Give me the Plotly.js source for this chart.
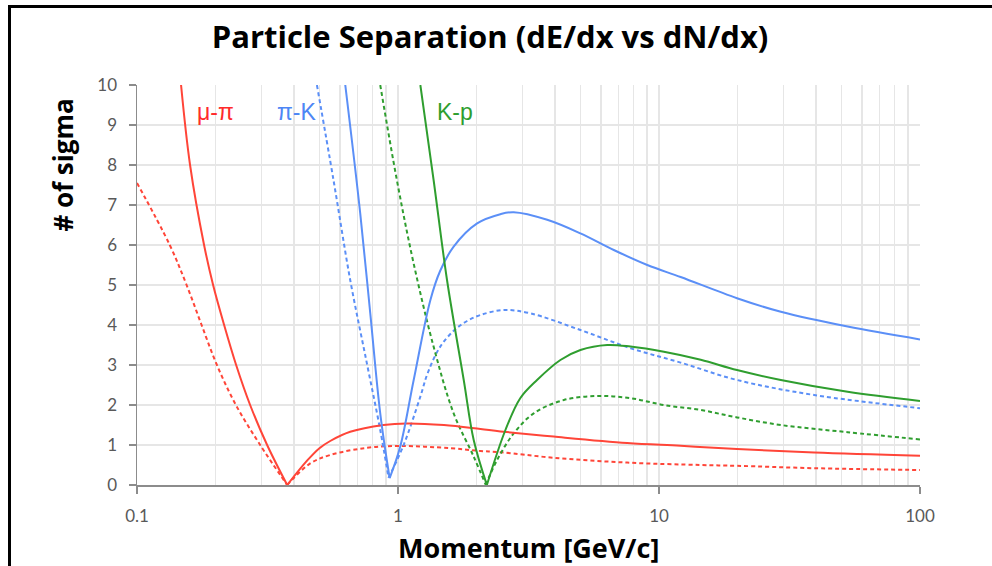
<!DOCTYPE html>
<html>
<head>
<meta charset="utf-8">
<script src="https://cdn.plot.ly/plotly-3.0.1.min.js"></script>
<style>
  html, body { margin: 0; padding: 0; background: #ffffff; }
  #wrap { position: relative; width: 992px; height: 566px; overflow: hidden; }
  #chart { position: absolute; left: 0; top: 0; width: 992px; height: 566px; }
  #frame { position: absolute; left: 8px; top: 5px; width: 990px; height: 570px;
           border-top: 3px solid #000; border-left: 3px solid #000; pointer-events: none; }
</style>
</head>
<body>
<div id="wrap">
  <div id="chart"></div>
  <div id="frame"></div>
</div>
<script>
// Momentum values (GeV/c) and separation power (# of sigma) per particle pair.
// Solid = dE/dx, dashed = dN/dx.
const muPiDEdxP = [0.1475, 0.1597, 0.1807, 0.1957, 0.2157, 0.2398, 0.2713, 0.3152, 0.3762, 0.45, 0.50, 0.55, 0.656, 0.88, 1.08, 1.5, 2.07, 2.47, 3.95, 7.55, 12.1, 19.9, 39.3, 100];
const muPiDEdx  = [10, 8.0, 6.0, 5.0, 4.0, 3.0, 2.0, 1.0, 0.0, 0.62, 0.92, 1.1, 1.33, 1.5, 1.54, 1.5, 1.40, 1.34, 1.21, 1.05, 0.98, 0.90, 0.81, 0.73];

const muPiDNdxP = [0.1, 0.1335, 0.1549, 0.1768, 0.2024, 0.2393, 0.2965, 0.3762, 0.461, 0.55, 0.76, 1.01, 1.587, 2.07, 2.47, 3.95, 7.55, 14.45, 19.9, 39.3, 100];
const muPiDNdx  = [7.55, 6.0, 5.0, 4.0, 3.0, 2.0, 1.0, 0.0, 0.54, 0.75, 0.93, 0.975, 0.92, 0.85, 0.82, 0.68, 0.56, 0.5, 0.48, 0.42, 0.375];

const piKDEdxP = [0.628, 0.7166, 0.783, 0.855, 0.929, 1.02, 1.148, 1.33, 1.45, 1.634, 2.01, 2.466, 2.776, 3.73, 5.0, 6.71, 9.02, 12.1, 19.9, 29.3, 52.8, 100];
const piKDEdx  = [10, 6.79, 4.29, 1.79, 0.17, 0.96, 2.62, 4.62, 5.35, 5.96, 6.54, 6.77, 6.82, 6.63, 6.29, 5.875, 5.5, 5.2, 4.67, 4.33, 3.96, 3.64];

const piKDNdxP = [0.489, 0.566, 0.656, 0.76, 0.855, 0.92, 1.051, 1.218, 1.3, 1.452, 1.65, 1.84, 2.07, 2.54, 3.22, 5.0, 7.78, 12.1, 19.9, 39.3, 100];
const piKDNdx  = [10, 7.625, 5.125, 3.04, 1.375, 0.18, 1.0, 2.21, 2.8, 3.46, 3.88, 4.1, 4.25, 4.375, 4.29, 3.875, 3.42, 3.06, 2.625, 2.25, 1.92];

const kPDEdxP = [1.218, 1.369, 1.541, 1.786, 1.95, 2.19, 2.58, 2.94, 3.41, 4.19, 5.0, 6.33, 7.78, 10.44, 14.45, 19.9, 29.3, 52.8, 100];
const kPDEdx  = [10, 7.625, 5.125, 2.625, 1.125, 0.0, 1.375, 2.17, 2.625, 3.125, 3.375, 3.5, 3.46, 3.33, 3.13, 2.875, 2.625, 2.33, 2.1];

const kPDNdxP = [0.855, 0.99, 1.148, 1.369, 1.634, 1.95, 2.17, 2.397, 2.776, 3.31, 4.32, 5.8, 7.78, 10.44, 14.45, 19.9, 29.3, 52.8, 100];
const kPDNdx  = [10, 7.625, 5.54, 3.46, 1.79, 0.71, 0.0, 0.625, 1.29, 1.79, 2.125, 2.225, 2.17, 2.0, 1.875, 1.69, 1.5, 1.32, 1.14];

// Axis ticks
const xMajorTicks = [0.1, 1, 10, 100];
const xMajorLabels = ['0.1', '1', '10', '100'];
const xMinorTicks = [];
[0.1, 1, 10].forEach(d => { for (let k = 2; k <= 9; k++) xMinorTicks.push(+(d * k).toPrecision(3)); });
const yTicks = [0, 1, 2, 3, 4, 5, 6, 7, 8, 9, 10];

// Pair labels
const pairNames = ['μ-π', 'π-K', 'K-p'];
const pairLabelX = [0.199, 0.411, 1.659];
const pairLabelY = [9.33, 9.33, 9.33];

const RED = '#ff4538', BLUE = '#5b8ff7', GREEN = '#2f9e2f';
const DASH = '4px,3px';

// Each curve dips to a sharp minimum; draw the falling and rising branches
// as separate smooth pieces so the notch stays pointed.
function branches(x, y, color, dashed) {
  let iMin = 0;
  y.forEach((v, i) => { if (v < y[iMin]) iMin = i; });
  const style = { color: color, width: 2, dash: dashed ? DASH : 'solid', shape: 'spline', smoothing: 1 };
  return [
    { x: x.slice(0, iMin + 1), y: y.slice(0, iMin + 1) },
    { x: x.slice(iMin), y: y.slice(iMin) }
  ].map(seg => ({
    type: 'scatter', mode: 'lines', x: seg.x, y: seg.y,
    line: style, hoverinfo: 'x+y', showlegend: false
  }));
}

const traces = [].concat(
  branches(muPiDNdxP, muPiDNdx, RED, true),
  branches(piKDNdxP, piKDNdx, BLUE, true),
  branches(kPDNdxP, kPDNdx, GREEN, true),
  branches(muPiDEdxP, muPiDEdx, RED, false),
  branches(piKDEdxP, piKDEdx, BLUE, false),
  branches(kPDEdxP, kPDEdx, GREEN, false)
);

const labelColors = ['#ff2b2b', '#4d86f5', '#2f9e2f'];
const annotations = pairNames.map((t, i) => ({
  x: Math.log10(pairLabelX[i]), y: pairLabelY[i], xref: 'x', yref: 'y',
  text: t, showarrow: false, xanchor: 'center', yanchor: 'middle',
  font: { family: 'Liberation Sans, Arial, sans-serif', size: 23, color: labelColors[i] }
}));

annotations.push({
  xref: 'paper', yref: 'paper', x: 0.5, y: -0.155, yanchor: 'middle', xanchor: 'center',
  text: 'Momentum [GeV/c]', showarrow: false,
  font: { family: 'Open Sans, sans-serif', size: 27, color: '#000', weight: 'bold' }
});
annotations.push({
  xref: 'paper', yref: 'paper', x: -0.095, y: 0.8, yanchor: 'middle', xanchor: 'center',
  text: '# of sigma', showarrow: false, textangle: -90,
  font: { family: 'Open Sans, sans-serif', size: 26, color: '#000', weight: 'bold' }
});

const tickFont = { family: 'Lato, sans-serif', size: 17, color: '#595959' };

const layout = {
  width: 992, height: 566,
  margin: { l: 137, r: 72, t: 85, b: 81 },
  paper_bgcolor: '#ffffff', plot_bgcolor: '#ffffff',
  title: {
    text: 'Particle Separation (dE/dx vs dN/dx)',
    x: 0.494, xanchor: 'center', xref: 'container',
    y: 1 - 37 / 566, yanchor: 'middle', yref: 'container',
    font: { family: 'Open Sans, sans-serif', size: 31, color: '#000', weight: 'bold' }
  },
  xaxis: {
    type: 'log', range: [-1, 2],
    tickmode: 'array', tickvals: xMajorTicks, ticktext: xMajorLabels,
    ticks: 'outside', ticklen: 7, tickcolor: '#8c8c8c', tickwidth: 1.5,
    showline: true, linecolor: '#8c8c8c', linewidth: 1.5,
    showgrid: true, gridcolor: '#e6e6e6', gridwidth: 1.5,
    minor: { tickmode: 'array', tickvals: xMinorTicks, showgrid: true, gridcolor: '#e6e6e6', gridwidth: 1.5, ticks: '' },
    tickfont: tickFont, ticklabelstandoff: 8, zeroline: false, fixedrange: true
  },
  yaxis: {
    range: [0, 10], tickmode: 'array', tickvals: yTicks,
    ticks: 'outside', ticklen: 7, tickcolor: '#8c8c8c', tickwidth: 1.5,
    showline: true, linecolor: '#8c8c8c', linewidth: 1.5,
    showgrid: true, gridcolor: '#e6e6e6', gridwidth: 1.5,
    tickfont: tickFont, ticklabelstandoff: 8, zeroline: false, fixedrange: true
  },
  annotations: annotations,
  showlegend: false
};

Plotly.newPlot('chart', traces, layout, { displayModeBar: false, staticPlot: true });
</script>
</body>
</html>
